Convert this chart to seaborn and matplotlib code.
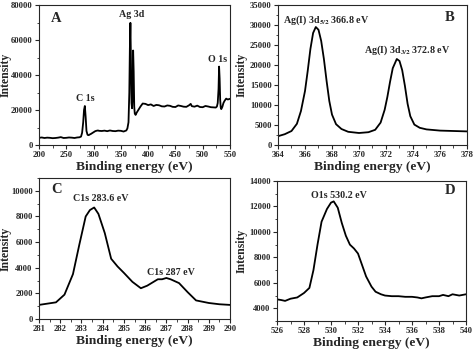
import pandas as pd
import matplotlib
matplotlib.use("Agg")
import matplotlib.pyplot as plt
import seaborn as sns
from matplotlib.ticker import AutoMinorLocator, MultipleLocator

# A: survey spectrum
survey_x = [200, 205, 210, 215, 220, 225, 230, 235, 240, 245, 250, 255, 260, 265, 270, 274, 277, 279,
            281, 282.5, 284, 285.5, 287, 289, 291, 293, 295, 298, 300, 303, 305, 308, 310, 315, 320,
            325, 330, 335, 340, 345, 350, 355, 360, 362, 364,
            365.5, 366.5, 367.5, 368.5, 369.5, 370.5, 371.5, 372.5, 373.5, 374.5, 375.5, 377, 379, 382, 386, 390,
            395, 400, 405, 410, 415, 420, 425, 430, 435, 440, 445, 450, 455, 460, 465, 470, 475, 478,
            480, 485, 490, 495, 500, 505, 510, 515, 520, 524,
            526, 527.5, 529, 530, 531, 532, 533, 534, 536, 538, 540, 543, 546, 550]
survey_y = [4100, 4300, 4000, 4200, 4100, 3900, 4000, 4200, 4500, 4000, 4100, 4300, 4200, 4000, 4300, 4400, 4800, 7000,
            13000, 20000, 22300, 16000, 8000, 5800, 5600, 6000, 6300, 6900, 7300, 7900, 8100, 8300, 8100, 8000, 8200,
            7900, 8300, 8000, 7900, 8200, 8100, 7700, 8300, 9500, 13000,
            30000, 55000, 69800, 48000, 24000, 21000, 28000, 54000, 42000, 22000, 18000, 17200, 18500, 20000, 22000, 23700,
            23500, 22800, 23200, 22300, 22900, 22700, 22100, 22000, 22600, 22400, 21800, 21700, 22600, 22300, 21900, 21800, 22700, 23500,
            22200, 21900, 22500, 21700, 21600, 22300, 22000, 21600, 21500, 21400,
            22000, 24000, 32000, 44800, 38000, 26000, 21500, 20500, 21800, 24000, 25200, 26500, 26000, 26400]

# B: Ag 3d
ag_x = [364, 364.5, 365, 365.4, 365.7, 366, 366.2, 366.4, 366.6, 366.8,
        367, 367.2, 367.4, 367.6, 367.8, 368, 368.3, 368.7, 369.2, 370,
        370.7, 371.2, 371.6, 371.9, 372.1, 372.3, 372.5, 372.8, 373, 373.2,
        373.4, 373.6, 373.8, 374.1, 374.5, 375, 376, 377, 378]
ag_y = [2200, 2700, 3500, 5300, 8500, 13500, 18500, 24000, 28000, 29500,
        28800, 26000, 21500, 16000, 11000, 7600, 5200, 4000, 3300, 3000,
        3200, 3800, 5600, 8800, 12000, 15800, 19200, 21500, 21000, 18700,
        14800, 10300, 7200, 5100, 4300, 3900, 3600, 3500, 3400]

# C: C 1s
c_x = [281, 281.8, 282.2, 282.6, 282.9, 283.2, 283.4, 283.6, 283.8, 284.1, 284.4, 284.7, 285,
       285.4, 285.8, 286.1, 286.4, 286.6, 286.8, 287, 287.2, 287.6, 288, 288.4, 289, 289.5, 290]
c_y = [1100, 1300, 1900, 3500, 5800, 8000, 8500, 8700, 8200, 6700, 4700, 4100, 3600,
       2900, 2400, 2600, 2900, 3100, 3100, 3200, 3100, 2800, 2100, 1450, 1250, 1150, 1100]

# D: O 1s
o_x = [526, 526.3, 526.6, 527, 527.5, 528, 528.4, 528.7, 529, 529.3, 529.7, 530, 530.2, 530.5,
       530.8, 531.1, 531.4, 531.7, 532, 532.3, 532.6, 533, 533.3, 533.7, 534, 534.5, 535, 535.5,
       536, 536.4, 536.7, 537, 537.5, 538, 538.3, 538.7, 539, 539.5, 540]
o_y = [4700, 4650, 4580, 4750, 4850, 5200, 5600, 7000, 9000, 10800, 11800, 12300, 12400, 11900,
       10700, 9700, 9000, 8700, 8300, 7400, 6500, 5700, 5300, 5100, 5000, 4950, 4950, 4900,
       4900, 4850, 4780, 4850, 4950, 4950, 5050, 4950, 5100, 5000, 5100]

sns.set_style("ticks")
plt.rcParams['font.family'] = ['Liberation Serif', 'DejaVu Serif']
plt.rcParams['font.weight'] = 'bold'
plt.rcParams['mathtext.fontset'] = 'stix'

W, H = 474, 350
fig = plt.figure(figsize=(4.74, 3.5), dpi=100)


def make_ax(left, right, top, bottom):
    return fig.add_axes([left / W, (H - bottom) / H, (right - left) / W, (bottom - top) / H])


def style(ax, xlim, ylim, xstep, ystep, ylab_x):
    ax.set_xlim(*xlim)
    ax.set_ylim(*ylim)
    ax.xaxis.set_major_locator(MultipleLocator(xstep))
    ax.yaxis.set_major_locator(MultipleLocator(ystep))
    ax.xaxis.set_minor_locator(AutoMinorLocator(2))
    ax.yaxis.set_minor_locator(AutoMinorLocator(2))
    ax.tick_params(which='major', direction='out', length=3, width=0.8, labelsize=6.2, pad=1.5)
    ax.tick_params(which='minor', direction='out', length=1.8, width=0.6)
    for lab in ax.get_xticklabels() + ax.get_yticklabels():
        lab.set_fontweight('bold')
    for s in ax.spines.values():
        s.set_linewidth(0.8)
        s.set_visible(True)
    ax.set_xlabel("Binding energy (eV)", fontsize=9.7, fontweight='bold', labelpad=1)
    ax.set_ylabel("Intensity", fontsize=8.5, fontweight='bold')
    ax.yaxis.set_label_coords(ylab_x, 0.5)


panels = [
    (make_ax(39, 230, 5, 145), survey_x, survey_y, (200, 550), (0, 80000), 50, 20000, -0.146),
    (make_ax(278, 467, 5, 145), ag_x, ag_y, (364, 378), (0, 35000), 2, 5000, -0.162),
    (make_ax(39, 230, 178, 319), c_x, c_y, (281, 290), (0, 11000), 1, 2000, -0.146),
    (make_ax(277, 466, 181, 321), o_x, o_y, (526, 540), (3000, 14000), 2, 2000, -0.156),
]

for ax, x, y, xl, yl, xs, ys, lx in panels:
    df = pd.DataFrame({'x': x, 'y': y})
    sns.lineplot(data=df, x='x', y='y', ax=ax, color='black', linewidth=1.3, sort=False)
    style(ax, xl, yl, xs, ys, lx)

axA, axB, axC, axD = [p[0] for p in panels]

tk = dict(fontsize=7.2, fontweight='bold', ha='center', va='center')
axA.text(0.09, 0.9, "A", transform=axA.transAxes, fontsize=10.5, fontweight='bold', ha='center', va='center')
axA.text(370, 74500, "Ag 3d", **tk)
axA.text(284, 26500, "C 1s", **tk)
axA.text(528, 49000, "O 1s", **tk)

axB.text(0.91, 0.91, "B", transform=axB.transAxes, fontsize=10.5, fontweight='bold', ha='center', va='center')
axB.text(367.6, 31300, r"Ag(I) 3d$_\mathbf{5/2}$ 366.8 eV", **tk)
axB.text(373.6, 23800, r"Ag(I) 3d$_\mathbf{3/2}$ 372.8 eV", **tk)

axC.text(0.094, 0.915, "C", transform=axC.transAxes, fontsize=10.5, fontweight='bold', ha='center', va='center')
axC.text(283.9, 9400, "C1s 283.6 eV", **tk)
axC.text(287.2, 3650, "C1s 287 eV", **tk)

axD.text(0.915, 0.93, "D", transform=axD.transAxes, fontsize=10.5, fontweight='bold', ha='center', va='center')
axD.text(530.6, 12850, "O1s 530.2 eV", **tk)

fig.savefig("out.png", dpi=100)
